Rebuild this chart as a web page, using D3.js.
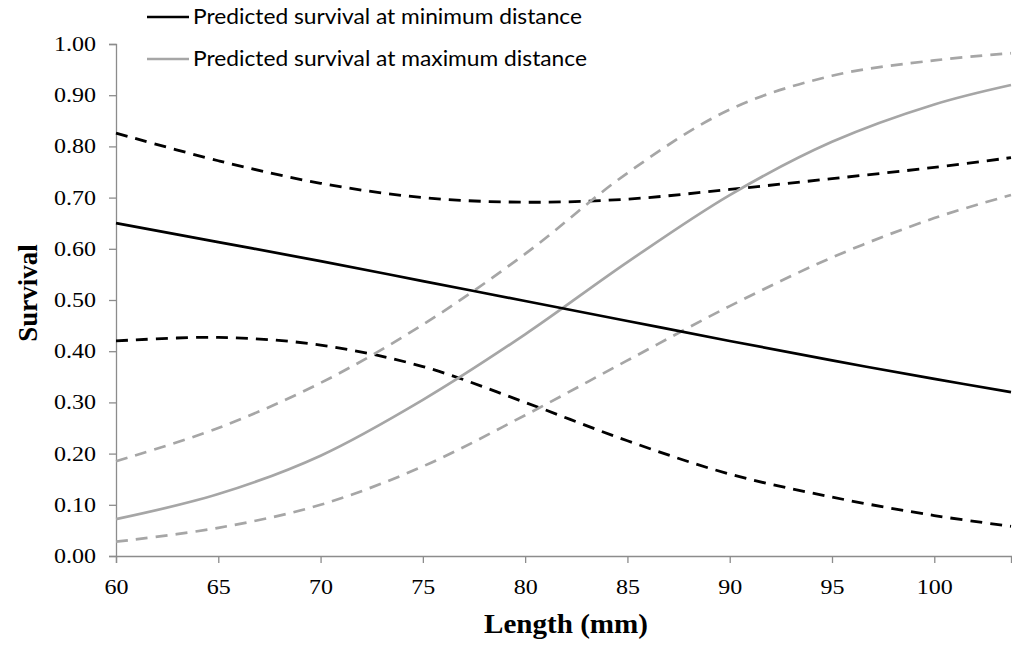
<!DOCTYPE html>
<html>
<head>
<meta charset="utf-8">
<script src="https://cdn.jsdelivr.net/npm/d3@7"></script>
<style>
  html, body { margin: 0; padding: 0; background: #fff; }
  svg { display: block; }
</style>
</head>
<body>
<svg id="chart" width="1012" height="647"></svg>
<script>
// Fish length (mm) at which predictions are evaluated
const lengths = [60, 65, 70, 75, 80, 85, 90, 95, 100, 103.75];

// Predicted survival at minimum distance, with lower / upper bounds
const minDistFit   = [0.650, 0.613, 0.576, 0.537, 0.498, 0.459, 0.420, 0.382, 0.346, 0.320];
const minDistUpper = [0.826, 0.772, 0.728, 0.700, 0.691, 0.697, 0.716, 0.737, 0.759, 0.778];
const minDistLower = [0.420, 0.427, 0.412, 0.370, 0.300, 0.225, 0.160, 0.115, 0.079, 0.058];

// Predicted survival at maximum distance, with lower / upper bounds
const maxDistFit   = [0.072, 0.121, 0.196, 0.305, 0.433, 0.574, 0.705, 0.809, 0.882, 0.920];
const maxDistUpper = [0.185, 0.250, 0.338, 0.452, 0.590, 0.748, 0.872, 0.938, 0.968, 0.982];
const maxDistLower = [0.028, 0.055, 0.100, 0.175, 0.275, 0.382, 0.488, 0.583, 0.660, 0.705];

const xTicks = [60, 65, 70, 75, 80, 85, 90, 95, 100];
const yTicks = [0, 0.1, 0.2, 0.3, 0.4, 0.5, 0.6, 0.7, 0.8, 0.9, 1.0];

const legendLabels = [
  "Predicted survival at minimum distance",
  "Predicted survival at maximum distance"
];

const svg = d3.select("#chart");
const axisColor = "#8c8c8c";
const black = "#000000";
const grey = "#a6a6a6";
const serif = "'Liberation Serif', 'Times New Roman', serif";

const x = d3.scaleLinear().domain([60, 103.75]).range([116, 1011]);
const y = d3.scaleLinear().domain([0, 1]).range([556, 44]);

// Widen a text element's glyphs horizontally by the given factor
function widen(sel, factor) {
  sel.each(function () {
    const w = this.getComputedTextLength();
    d3.select(this).attr("textLength", w * factor).attr("lengthAdjust", "spacingAndGlyphs");
  });
}

// Axes
const xAxis = svg.append("g")
  .attr("transform", `translate(0,${y(0)})`)
  .call(d3.axisBottom(x).tickValues(xTicks).tickSize(7).tickFormat(d3.format("d")));
const yAxis = svg.append("g")
  .attr("transform", `translate(${x(60)},0)`)
  .call(d3.axisLeft(y).tickValues(yTicks).tickSize(7).tickPadding(13).tickFormat(d3.format(".2f")));

[xAxis, yAxis].forEach(g => {
  g.select(".domain").attr("stroke", axisColor).attr("stroke-width", 1.3);
  g.selectAll(".tick line").attr("stroke", axisColor).attr("stroke-width", 1.3);
  g.selectAll(".tick text")
    .attr("fill", "#000")
    .style("font-family", serif)
    .style("font-size", "20px");
});
xAxis.selectAll(".tick text").attr("y", 38).attr("dy", "0");
widen(xAxis.selectAll(".tick text"), 1.2);
widen(yAxis.selectAll(".tick text"), 1.2);

// Curves
const line = d3.line()
  .x((d, i) => x(lengths[i]))
  .y(d => y(d))
  .curve(d3.curveCatmullRom.alpha(0.5));

const series = [
  { values: minDistUpper, color: black, width: 2.8, dash: "12,8" },
  { values: minDistLower, color: black, width: 2.8, dash: "12,8" },
  { values: maxDistUpper, color: grey,  width: 2.7, dash: "12,8" },
  { values: maxDistLower, color: grey,  width: 2.7, dash: "12,8" },
  { values: maxDistFit,   color: grey,  width: 2.7, dash: null },
  { values: minDistFit,   color: black, width: 2.7, dash: null }
];

svg.append("g").selectAll("path")
  .data(series)
  .join("path")
  .attr("d", d => line(d.values))
  .attr("fill", "none")
  .attr("stroke", d => d.color)
  .attr("stroke-width", d => d.width)
  .attr("stroke-dasharray", d => d.dash);

// Axis titles
svg.append("text")
  .attr("x", 566)
  .attr("y", 633)
  .attr("text-anchor", "middle")
  .attr("textLength", 164)
  .attr("lengthAdjust", "spacingAndGlyphs")
  .style("font-family", serif)
  .style("font-weight", "bold")
  .style("font-size", "27px")
  .text("Length (mm)");

svg.append("text")
  .attr("transform", `translate(37,293) rotate(-90)`)
  .attr("text-anchor", "middle")
  .style("font-family", serif)
  .style("font-weight", "bold")
  .style("font-size", "27px")
  .text("Survival");

// Legend
const legend = svg.append("g");
const legendColors = [black, grey];
const legendY = [17, 59];
const legendWidths = [389, 394];
legendLabels.forEach((label, i) => {
  legend.append("line")
    .attr("x1", 147).attr("x2", 189)
    .attr("y1", legendY[i]).attr("y2", legendY[i])
    .attr("stroke", legendColors[i])
    .attr("stroke-width", 2.6);
  legend.append("text")
    .attr("x", 193)
    .attr("y", legendY[i] + 6.5)
    .attr("textLength", legendWidths[i])
    .attr("lengthAdjust", "spacingAndGlyphs")
    .style("font-family", "Lato, 'Open Sans', sans-serif")
    .style("font-size", "21px")
    .attr("fill", "#000")
    .text(label);
});
</script>
</body>
</html>
